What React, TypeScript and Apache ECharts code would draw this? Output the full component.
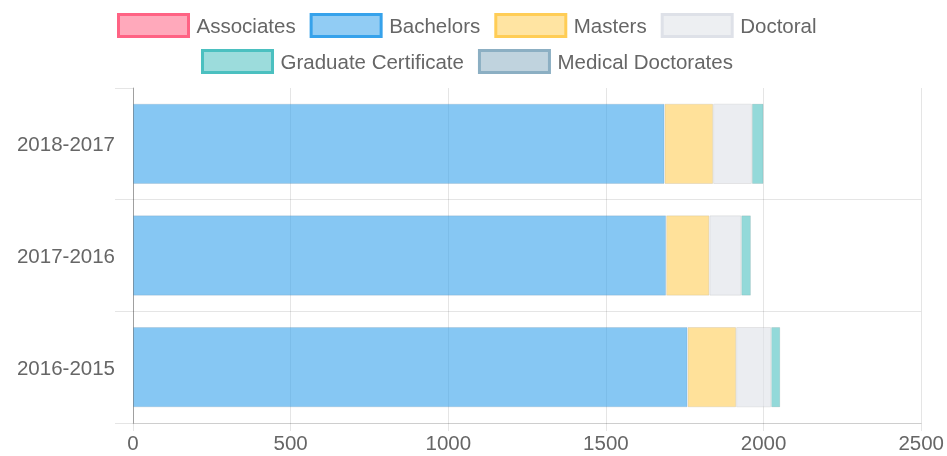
import React, { useEffect, useRef } from "react";
import * as echarts from "echarts";

// bottom-to-top order (ECharts category y axis starts at the bottom)
const categories = ["2016-2015", "2017-2016", "2018-2017"];
const associates = [0, 0, 0];
const bachelors = [1759, 1691, 1686];
const masters = [154, 137, 154];
const doctoral = [111, 101, 123];
const gradCert = [29, 31, 37];
const medical = [0, 0, 0];

const xTicks = { min: 0, max: 2500, interval: 500 };

const seriesDefs = [
  { name: "Associates", data: associates, rgb: "255,99,132" },
  { name: "Bachelors", data: bachelors, rgb: "54,162,235" },
  { name: "Masters", data: masters, rgb: "255,205,86" },
  { name: "Doctoral", data: doctoral, rgb: "222,225,232" },
  { name: "Graduate Certificate", data: gradCert, rgb: "75,192,192" },
  { name: "Medical Doctorates", data: medical, rgb: "140,175,195" },
];

const FONT = "'Liberation Sans', Arial, Helvetica, sans-serif";
const FS = 20.5;
const TXT = "#666";

export default function App() {
  const ref = useRef<HTMLDivElement>(null);
  useEffect(() => {
    if (!ref.current) return;
    const chart = echarts.init(ref.current, undefined, { renderer: "svg" });
    const legendItem = (d: any) => ({
      name: d.name,
      itemStyle: {
        color: `rgba(${d.rgb},0.55)`,
        borderColor: `rgb(${d.rgb})`,
        borderWidth: 3,
      },
    });
    const legendBase = {
      icon: "rect",
      itemWidth: 70,
      itemHeight: 22,
      itemGap: 14,
      padding: 0,
      selectedMode: false,
      textStyle: { fontFamily: FONT, fontSize: FS, color: TXT, padding: [0, 0, 0, 3] },
    };
    chart.setOption({
      animation: false,
      textStyle: { fontFamily: FONT },
      legend: [
        { ...legendBase, left: 117, top: 13, data: seriesDefs.slice(0, 4).map(legendItem) },
        { ...legendBase, left: 201, top: 49, data: seriesDefs.slice(4).map(legendItem) },
      ],
      grid: { left: 133, right: 24, top: 88, bottom: 33, containLabel: false },
      xAxis: {
        type: "value",
        min: xTicks.min,
        max: xTicks.max,
        interval: xTicks.interval,
        axisLine: { show: true, lineStyle: { color: "rgba(0,0,0,0.1)", width: 1 } },
        axisTick: { show: true, length: 8, lineStyle: { color: "rgba(0,0,0,0.1)" } },
        splitLine: { show: true, lineStyle: { color: "rgba(0,0,0,0.1)", width: 1 } },
        axisLabel: {
          fontFamily: FONT,
          fontSize: FS,
          color: TXT,
          margin: 9,
          formatter: (v: number) => String(v),
        },
      },
      yAxis: {
        type: "category",
        data: categories,
        axisLine: { show: true, lineStyle: { color: "rgba(0,0,0,0.3)", width: 1 } },
        axisTick: { show: true, length: 18, lineStyle: { color: "rgba(0,0,0,0.1)" } },
        splitLine: { show: true, showMaxLine: false, lineStyle: { color: "rgba(0,0,0,0.1)", width: 1 } },
        axisLabel: { fontFamily: FONT, fontSize: FS, color: TXT, margin: 18 },
      },
      series: seriesDefs.map((d) => ({
        name: d.name,
        type: "bar",
        stack: "total",
        barWidth: "72%",
        data: d.data,
        itemStyle: {
          color: `rgba(${d.rgb},0.6)`,
          borderColor: "rgba(0,0,0,0.08)",
          borderWidth: d.data.some((v) => v > 0) ? 1 : 0,
        },
        emphasis: { disabled: true },
      })),
    });
    return () => chart.dispose();
  }, []);
  return (
    <div
      ref={ref}
      style={{ position: "fixed", left: 0, top: 0, width: 947, height: 456 }}
    />
  );
}
